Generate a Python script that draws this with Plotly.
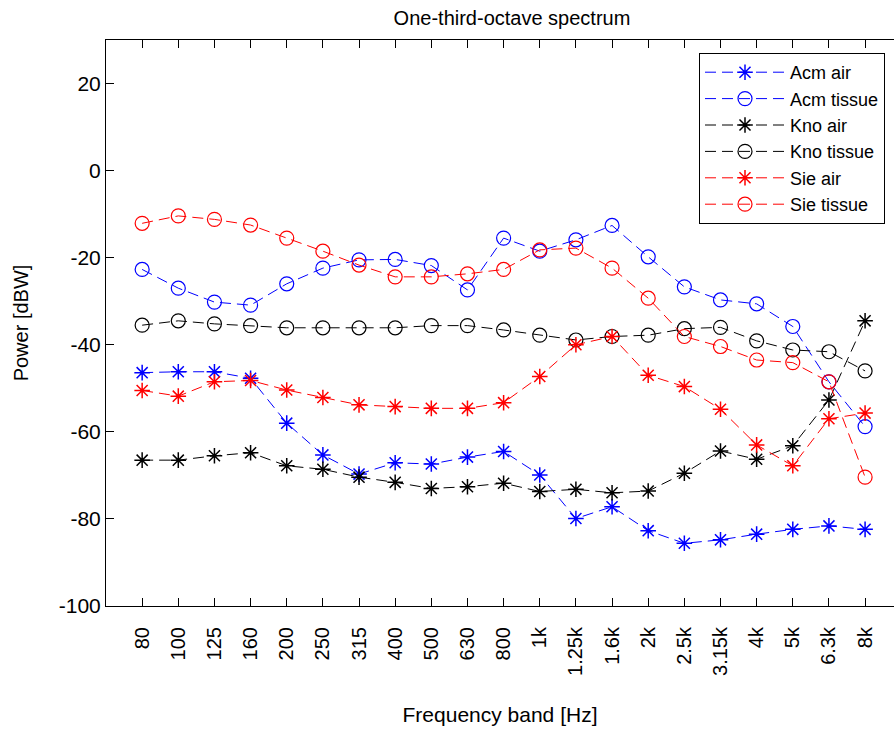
import plotly.graph_objects as go

bands = ["80", "100", "125", "160", "200", "250", "315", "400", "500", "630", "800",
         "1k", "1.25k", "1.6k", "2k", "2.5k", "3.15k", "4k", "5k", "6.3k", "8k"]

acm_air = [-46.4, -46.2, -46.2, -47.7, -58.0, -65.3, -69.7, -67.1, -67.4, -65.8, -64.5,
           -69.9, -79.9, -77.2, -82.7, -85.6, -84.8, -83.5, -82.4, -81.6, -82.4]
acm_tissue = [-22.7, -27.0, -30.2, -30.9, -26.0, -22.4, -20.5, -20.4, -21.8, -27.4, -15.5,
              -18.5, -15.9, -12.6, -19.8, -26.7, -29.7, -30.6, -35.8, -48.5, -58.8]
kno_air = [-66.5, -66.5, -65.5, -64.8, -67.8, -68.6, -70.4, -71.6, -73.0, -72.6, -71.8,
           -73.7, -73.2, -74.0, -73.6, -69.5, -64.4, -66.3, -63.2, -52.7, -34.5]
kno_tissue = [-35.5, -34.5, -35.2, -35.6, -36.1, -36.1, -36.1, -36.1, -35.6, -35.6, -36.6,
              -37.8, -38.9, -38.1, -37.8, -36.3, -36.0, -39.1, -41.2, -41.6, -46.0]
sie_air = [-50.5, -51.8, -48.5, -48.2, -50.4, -52.1, -53.8, -54.2, -54.6, -54.6, -53.3,
           -47.3, -40.0, -38.1, -47.0, -49.6, -54.8, -63.0, -67.8, -57.0, -55.7]
sie_tissue = [-12.1, -10.4, -11.2, -12.5, -15.5, -18.5, -21.7, -24.4, -24.4, -23.7, -22.7,
              -18.2, -17.8, -22.4, -29.3, -38.1, -40.4, -43.5, -44.1, -48.5, -70.4]

y_ticks = [-100, -80, -60, -40, -20, 0, 20]
y_ticktext = ["-100", "-80", "-60", "-40", "-20", "0", "20"]

series = [
    ("Acm air", acm_air, "#0000ff", "asterisk-open"),
    ("Acm tissue", acm_tissue, "#0000ff", "circle-open"),
    ("Kno air", kno_air, "#000000", "asterisk-open"),
    ("Kno tissue", kno_tissue, "#000000", "circle-open"),
    ("Sie air", sie_air, "#ff0000", "asterisk-open"),
    ("Sie tissue", sie_tissue, "#ff0000", "circle-open"),
]

xpos = list(range(1, len(bands) + 1))
FONT = "Liberation Sans, Arial, sans-serif"

W, H = 894, 729
L, T, B = 106, 40, 123

fig = go.Figure()
for name, vals, col, sym in series:
    is_circ = sym.startswith("circle")
    fig.add_trace(go.Scatter(
        x=xpos, y=vals, name=name, mode="lines+markers",
        line=dict(color=col, width=1, dash="11px,6px"),
        marker=dict(symbol=sym, size=14 if is_circ else 13,
                    color=col, line=dict(color=col, width=1.2 if is_circ else 1.5)),
    ))

plot_h = H - T - B
fig.update_layout(
    width=W, height=H,
    paper_bgcolor="white", plot_bgcolor="white",
    margin=dict(l=L, r=0, t=T, b=B, autoexpand=False),
    font=dict(family=FONT, size=20, color="#000"),
    title=dict(text="One-third-octave spectrum", x=512 / W, xref="container",
               xanchor="center", y=1 - 18 / H, yref="container", yanchor="middle",
               font=dict(family=FONT, size=20, color="#000")),
    showlegend=True,
    legend=dict(x=(699 - L) / (W - L), y=1 - (53 - T) / plot_h, xanchor="left", yanchor="top",
                bgcolor="white", bordercolor="#000", borderwidth=1,
                font=dict(family=FONT, size=18, color="#000"),
                itemwidth=80, tracegroupgap=0),
)

fig.update_xaxes(
    range=[0, 21.8], tickmode="array", tickvals=xpos, ticktext=bands,
    tickangle=-90, ticks="inside", ticklen=8, tickcolor="#000", tickwidth=1,
    showline=True, linecolor="#000", linewidth=1, mirror="ticks",
    showgrid=False, zeroline=False, ticklabelstandoff=12,
    tickfont=dict(family=FONT, size=20),
    title=dict(text="Frequency band [Hz]", font=dict(family=FONT, size=21), standoff=32),
)
fig.update_yaxes(
    range=[-100, 30], tickmode="array", tickvals=y_ticks, ticktext=y_ticktext,
    ticks="inside", ticklen=8, tickcolor="#000", tickwidth=1,
    showline=True, linecolor="#000", linewidth=1, mirror=False,
    showgrid=False, zeroline=False,
    tickfont=dict(family=FONT, size=21),
    title=dict(text="Power [dBW]", font=dict(family=FONT, size=20), standoff=24),
)

fig.write_html("out.html", config={"displayModeBar": False},
               post_script="document.body.style.margin='0';")
